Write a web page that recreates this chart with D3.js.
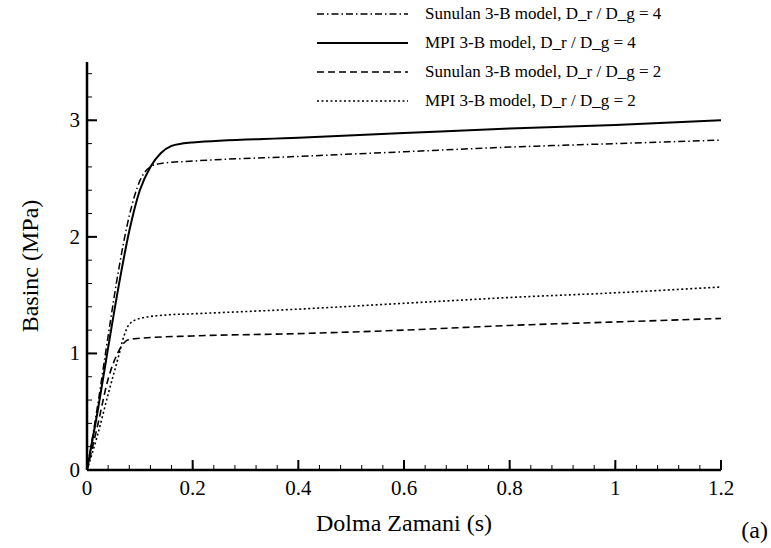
<!DOCTYPE html>
<html>
<head>
<meta charset="utf-8">
<script src="https://cdn.jsdelivr.net/npm/d3@7"></script>
<style>
  body { margin: 0; background: #fff; }
  svg text { font-family: "Liberation Serif", "Times New Roman", Times, "DejaVu Serif", serif; fill: #000; }
</style>
</head>
<body>
<div id="chart"></div>
<script>
// data
var sunulan4T = [0, 0.02, 0.04, 0.06, 0.08, 0.10, 0.12, 0.14, 0.2, 0.4, 0.6, 0.8, 1.0, 1.2];
var sunulan4P = [0, 0.55, 1.15, 1.72, 2.18, 2.48, 2.60, 2.63, 2.65, 2.69, 2.73, 2.77, 2.80, 2.83];

var mpi4T = [0, 0.02, 0.04, 0.06, 0.08, 0.10, 0.12, 0.14, 0.16, 0.18, 0.2, 0.4, 0.6, 0.8, 1.0, 1.2];
var mpi4P = [0, 0.50, 1.05, 1.58, 2.05, 2.40, 2.60, 2.72, 2.78, 2.80, 2.81, 2.85, 2.89, 2.93, 2.96, 3.00];

var sunulan2T = [0, 0.02, 0.04, 0.06, 0.07, 0.08, 0.1, 0.2, 0.4, 0.6, 0.8, 1.0, 1.2];
var sunulan2P = [0, 0.38, 0.78, 1.02, 1.09, 1.12, 1.13, 1.15, 1.17, 1.20, 1.24, 1.27, 1.30];

var mpi2T = [0, 0.02, 0.04, 0.06, 0.07, 0.08, 0.1, 0.15, 0.2, 0.4, 0.6, 0.8, 1.0, 1.2];
var mpi2P = [0, 0.30, 0.65, 0.98, 1.15, 1.25, 1.30, 1.33, 1.34, 1.38, 1.43, 1.48, 1.52, 1.57];

var seriesNames = ["Sunulan 3-B model, D_r / D_g = 4", "MPI 3-B model, D_r / D_g = 4",
                   "Sunulan 3-B model, D_r / D_g = 2", "MPI 3-B model, D_r / D_g = 2"];
var xTicks = [0, 0.2, 0.4, 0.6, 0.8, 1, 1.2];
var yTicks = [0, 1, 2, 3];

var W = 771, H = 548;
var FONT = '"Liberation Serif", "Times New Roman", Times, "DejaVu Serif", serif';
var svg = d3.select("#chart").append("svg")
    .attr("width", W)
    .attr("height", H)
    .attr("font-family", FONT);

var x = d3.scaleLinear().domain([0, 1.2]).range([87, 721]);
var y = d3.scaleLinear().domain([0, 3.5]).range([470, 62]);

var series = [
  {t: sunulan4T, p: sunulan4P, dash: "7,3,1.5,3", w: 1.5},
  {t: mpi4T, p: mpi4P, dash: null, w: 2},
  {t: sunulan2T, p: sunulan2P, dash: "7,4", w: 1.6},
  {t: mpi2T, p: mpi2P, dash: "2,2.5", w: 1.6}
];

var line = d3.line()
  .x(function(d) { return x(d[0]); })
  .y(function(d) { return y(d[1]); })
  .curve(d3.curveMonotoneX);

series.forEach(function(s) {
  svg.append("path")
    .datum(s.t.map(function(t, i) { return [t, s.p[i]]; }))
    .attr("d", line)
    .attr("fill", "none")
    .attr("stroke", "#000")
    .attr("stroke-width", s.w)
    .attr("stroke-dasharray", s.dash);
});

// axes, ticks pointing inward
var xMinor = d3.range(0, 1.2001, 0.04);
var yMinor = d3.range(0, 3.5001, 0.2);

var xAxis = svg.append("g");
xAxis.append("line")
  .attr("x1", x(0)).attr("x2", x(1.2))
  .attr("y1", y(0)).attr("y2", y(0))
  .attr("stroke", "#000").attr("stroke-width", 2.5);
xAxis.selectAll(".minor").data(xMinor).enter().append("line")
  .attr("x1", function(d) { return x(d); }).attr("x2", function(d) { return x(d); })
  .attr("y1", y(0)).attr("y2", y(0) - 5)
  .attr("stroke", "#000").attr("stroke-width", 1);
xAxis.selectAll(".major").data(xTicks).enter().append("line")
  .attr("x1", function(d) { return x(d); }).attr("x2", function(d) { return x(d); })
  .attr("y1", y(0)).attr("y2", y(0) - 10)
  .attr("stroke", "#000").attr("stroke-width", 2);
xAxis.selectAll("text").data(xTicks).enter().append("text")
  .attr("x", function(d) { return x(d); })
  .attr("y", y(0) + 25)
  .attr("text-anchor", "middle")
  .style("font-size", "21px")
  .text(function(d) { return d; });

var yAxis = svg.append("g");
yAxis.append("line")
  .attr("x1", x(0)).attr("x2", x(0))
  .attr("y1", y(0)).attr("y2", y(3.5))
  .attr("stroke", "#000").attr("stroke-width", 2.5);
yAxis.selectAll(".minor").data(yMinor).enter().append("line")
  .attr("x1", x(0)).attr("x2", x(0) + 5)
  .attr("y1", function(d) { return y(d); }).attr("y2", function(d) { return y(d); })
  .attr("stroke", "#000").attr("stroke-width", 1);
yAxis.selectAll(".major").data(yTicks).enter().append("line")
  .attr("x1", x(0)).attr("x2", x(0) + 10)
  .attr("y1", function(d) { return y(d); }).attr("y2", function(d) { return y(d); })
  .attr("stroke", "#000").attr("stroke-width", 2);
yAxis.selectAll("text").data(yTicks).enter().append("text")
  .attr("x", x(0) - 7)
  .attr("y", function(d) { return y(d) + 7; })
  .attr("text-anchor", "end")
  .style("font-size", "21px")
  .text(function(d) { return d; });

// axis titles
svg.append("text")
  .attr("x", 404).attr("y", 531)
  .attr("text-anchor", "middle")
  .style("font-size", "24px")
  .text("Dolma Zamani (s)");

svg.append("text")
  .attr("transform", "translate(38,266) rotate(-90)")
  .attr("text-anchor", "middle")
  .style("font-size", "24px")
  .text("Basinc (MPa)");

svg.append("text")
  .attr("x", 768).attr("y", 538)
  .attr("text-anchor", "end")
  .style("font-size", "24px")
  .text("(a)");

// legend
var legend = svg.append("g");
series.forEach(function(s, i) {
  var ly = 14 + i * 29;
  legend.append("line")
    .attr("x1", 317).attr("x2", 408)
    .attr("y1", ly).attr("y2", ly)
    .attr("stroke", "#000")
    .attr("stroke-width", s.w)
    .attr("stroke-dasharray", s.dash);
  legend.append("text")
    .attr("x", 425).attr("y", ly + 5)
    .style("font-size", "17px")
    .text(seriesNames[i]);
});
</script>
</body>
</html>
